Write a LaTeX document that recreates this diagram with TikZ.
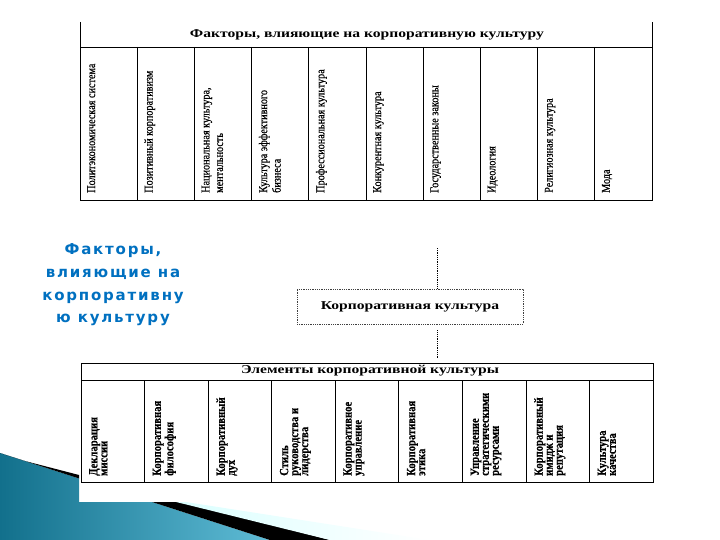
\documentclass[tikz,border=0pt]{standalone}
\usepackage{fontspec}
\setmainfont{Liberation Serif}
\newfontfamily\headfont[FakeStretch=1.3]{Liberation Serif}
\newfontfamily\colfont[FakeStretch=0.85,FakeBold=0.5]{Liberation Serif}
\newfontfamily\sidefont[LetterSpace=12]{DejaVu Sans}
\usetikzlibrary{positioning,calc}
\definecolor{sideblue}{RGB}{0,112,192}
\definecolor{tealdark}{RGB}{18,112,140}
\definecolor{teallight}{RGB}{95,188,214}

\begin{document}
\begin{tikzpicture}[
    x=1pt, y=-1pt,
    grid/.style={line width=0.8pt},
    head/.style={inner sep=0pt, font=\headfont\fontsize{12}{12}\selectfont\bfseries},
    fcol/.style={rotate=90, anchor=north west, align=left, inner sep=0pt,
        font=\colfont\fontsize{12}{13.5}\selectfont},
    ecol/.style={fcol, font=\colfont\fontsize{12.5}{10}\selectfont\bfseries},
    core/.style={draw=black!75, densely dotted, line width=0.8pt, fill=white,
        minimum width=226pt, minimum height=35pt, inner sep=0pt,
        font=\headfont\fontsize{12}{12}\selectfont\bfseries},
    link/.style={densely dotted, line width=0.8pt},
]
\useasboundingbox (0,0) rectangle (720,540);

% Swoosh at the bottom left
\begin{scope}
\clip (0,0) -- (79,0) -- (79,502) -- (720,502) -- (720,540) -- (0,540) -- cycle;
\shade[left color=tealdark, right color=teallight] (0,453) -- (270,540) -- (0,540) -- cycle;
\fill[black] (25,461) -- (330,540) -- (270,540) -- (0,453) -- cycle;
\shade[left color=cyan!15, right color=white] (160,498) -- (430,540) -- (330,540) -- cycle;
\end{scope}

% Factors table
\node[head] (ftitle) at (367,35) {Факторы, влияющие на корпоративную культуру};
\draw[grid] (80,22) -- (80,200) -- (652,200) -- (652,22);
\draw[grid] (80,47) -- (652,47);
\foreach \i in {1,...,9}
    \draw[grid] ({80+57.2*\i},47) -- ({80+57.2*\i},200);
\foreach \t [count=\i from 0] in {Политэкономическая система, Позитивный корпоративизм,
    {Национальная культура,\\ментальность}, {Культура эффективного\\бизнеса},
    Профессиональная культура, Конкурентная культура, Государственные законы,
    Идеология, Религиозная культура, Мода}
    \node[fcol] (f\i) at ({80+57.2*\i+7},193) {\t};

% Left caption
\node[align=center, text=sideblue, inner sep=0pt,
    font=\sidefont\fontsize{15}{22.7}\selectfont\bfseries] (side) at (113,285)
    {Факторы,\\влияющие на\\корпоративну\\ю культуру};

% Core node
\node[core] (cc) at (410,306.5) {Корпоративная культура};
\coordinate (ftop) at (437,248);
\coordinate (ebot) at (437,358);
\draw[link] (ftop) -- (ftop |- cc.north);
\draw[link] ([yshift=-6pt]cc.south -| ebot) -- (ebot);

% Elements table
\node[head] (etitle) at (370,371) {Элементы корпоративной культуры};
\draw[grid] (81,363) rectangle (653,482);
\draw[grid] (81,380) -- (653,380);
\foreach \i in {1,...,8}
    \draw[grid] ({81+63.56*\i},380) -- ({81+63.56*\i},482);
\foreach \t [count=\i from 0] in {{Декларация\\миссии}, {Корпоративная\\философия},
    {Корпоративный\\дух}, {Стиль\\руководства и\\лидерства}, {Корпоративное\\управление},
    {Корпоративная\\этика}, {Управление\\стратегическими\\ресурсами},
    {Корпоративный\\имидж и\\репутация}, {Культура\\качества}}
    \node[ecol] (e\i) at ({81+63.56*\i+8},476) {\t};
\end{tikzpicture}
\end{document}
